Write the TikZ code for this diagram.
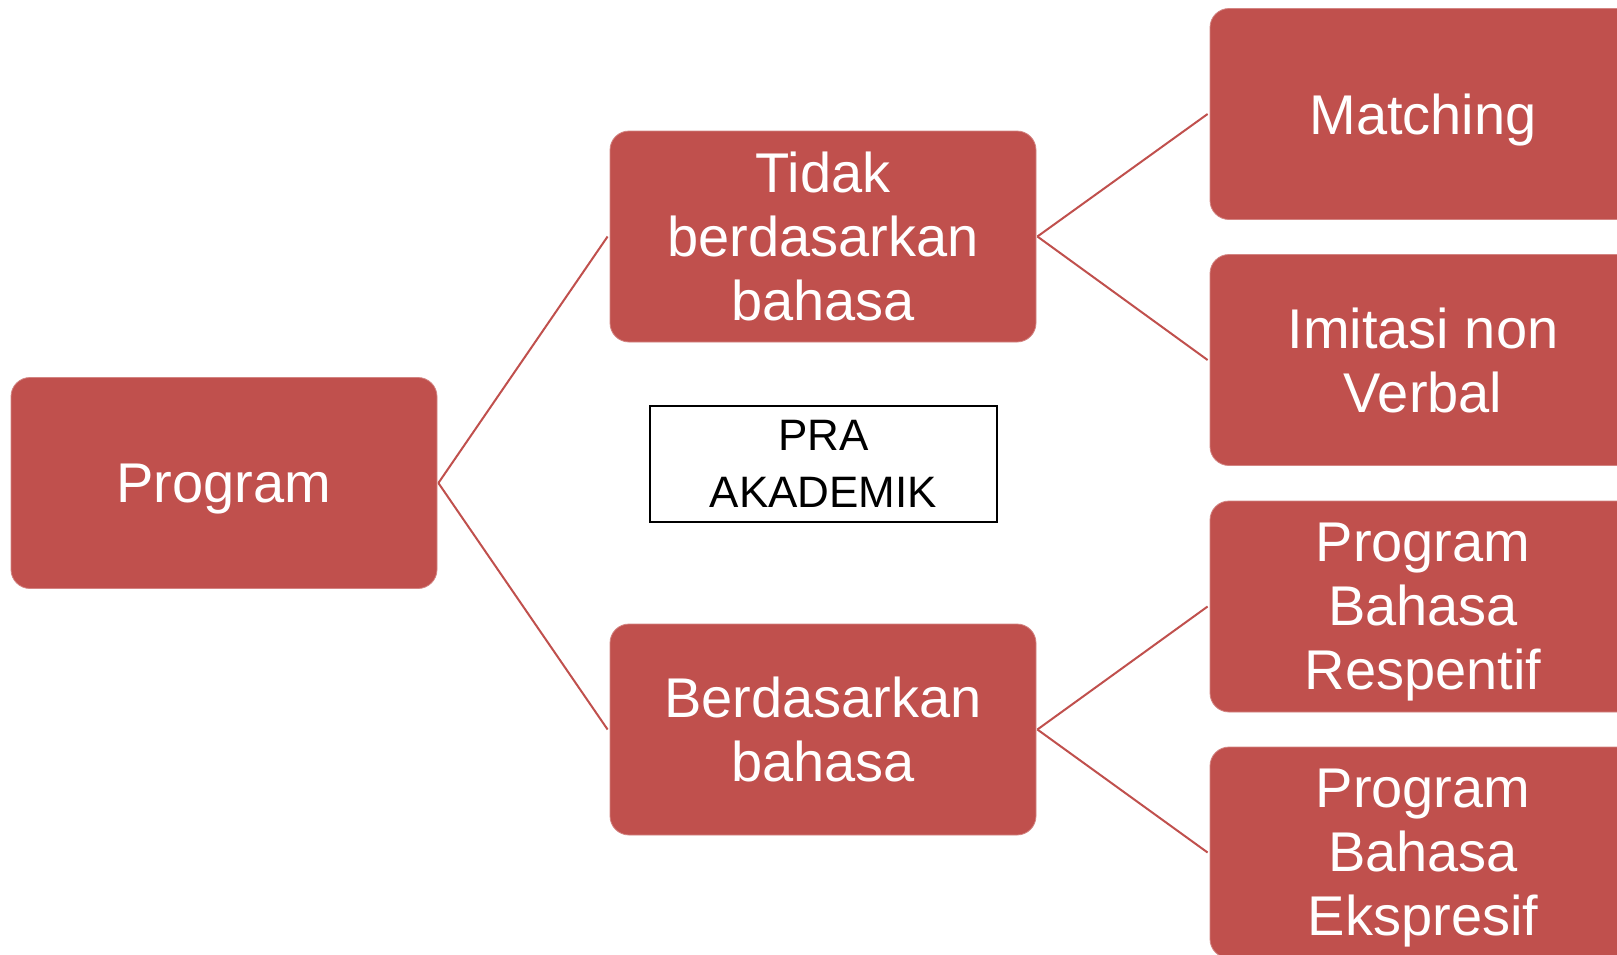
\documentclass[tikz,border=0pt]{standalone}
\usepackage{fontspec}
\setmainfont{Liberation Sans}
\definecolor{boxred}{HTML}{C0504D}
% last line without descender depth, so lines are centred on their letters
\newcommand{\nodesc}[1]{\raisebox{0pt}[\height][0pt]{#1}}
\tikzset{
  redbox/.style={rectangle, rounded corners=19pt, fill=boxred, draw=boxred!70!white, line width=0.8pt,
    minimum width=426pt, minimum height=211pt, inner sep=0pt, text=white, align=center,
    font=\fontsize{56}{64}\selectfont},
  link/.style={draw=boxred, line width=2pt},
  labelbox/.style={rectangle, draw=black, line width=2pt, minimum width=347pt, minimum height=116pt,
    inner sep=0pt, align=center, font=\fontsize{44}{57}\selectfont}
}
\begin{document}
\begin{tikzpicture}[x=1pt,y=-1pt]
  \useasboundingbox (0,0) rectangle (1617,954);
  \clip (0,0) rectangle (1617,954);
  % left column
  \node[redbox] (prog) at (224,483) {\nodesc{Program}};
  % middle column
  \node[redbox] (tidak) at (823,236.5) {Tidak\\berdasarkan\\bahasa};
  \node[redbox] (berd) at (823,729.5) {Berdasarkan\\bahasa};
  \node[labelbox] (pra) at (823.5,464) {PRA\\\nodesc{AKADEMIK}};
  % right column
  \node[redbox] (match) at (1423,114) {\nodesc{Matching}};
  \node[redbox] (imit) at (1423,360) {Imitasi non\\Verbal};
  \node[redbox] (resp) at (1423,606.5) {Program\\Bahasa\\\nodesc{Respentif}};
  \node[redbox] (eksp) at (1423,852.5) {Program\\Bahasa\\\nodesc{Ekspresif}};
  % connectors
  \draw[link] ([xshift=1pt]prog.east) -- ([xshift=-2pt]tidak.west);
  \draw[link] ([xshift=1pt]prog.east) -- ([xshift=-2pt]berd.west);
  \draw[link] ([xshift=1pt]tidak.east) -- ([xshift=-2pt]match.west);
  \draw[link] ([xshift=1pt]tidak.east) -- ([xshift=-2pt]imit.west);
  \draw[link] ([xshift=1pt]berd.east) -- ([xshift=-2pt]resp.west);
  \draw[link] ([xshift=1pt]berd.east) -- ([xshift=-2pt]eksp.west);
\end{tikzpicture}
\end{document}
